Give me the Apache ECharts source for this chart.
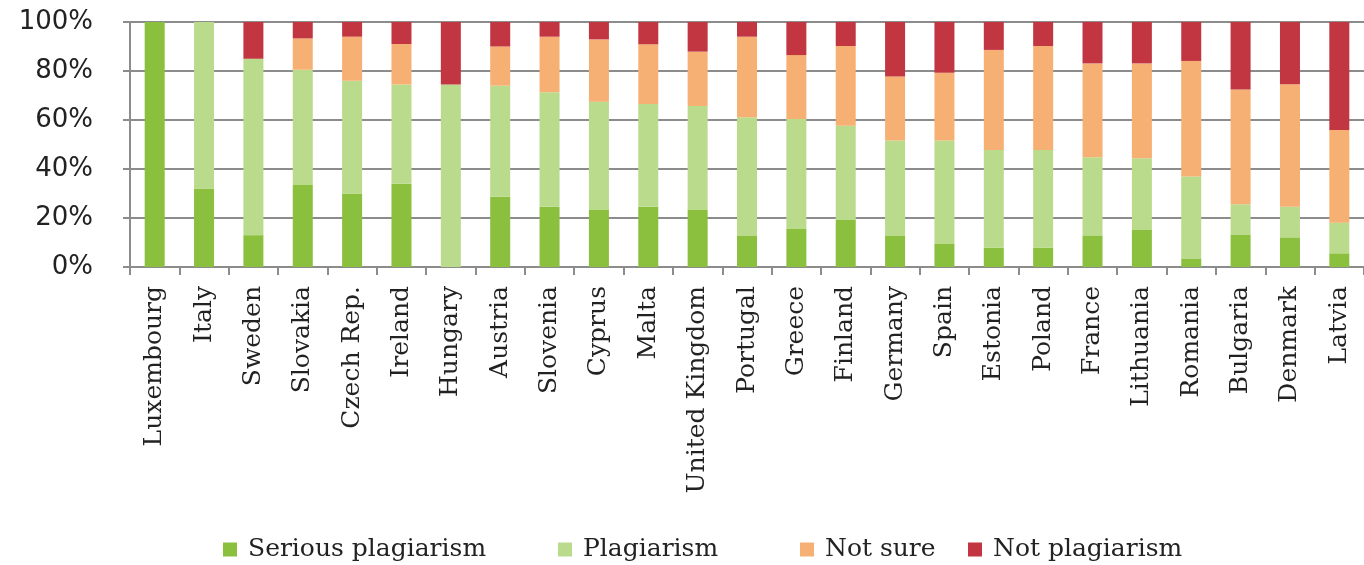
<!DOCTYPE html>
<html>
<head>
<meta charset="utf-8">
<script src="https://cdn.jsdelivr.net/npm/echarts@6/dist/echarts.min.js"></script>
<style>html,body{margin:0;padding:0;background:#fff;}#c{width:1364px;height:565px;}</style>
</head>
<body>
<div id="c"></div>
<script>
const categories = ["Luxembourg","Italy","Sweden","Slovakia","Czech Rep.","Ireland","Hungary","Austria","Slovenia","Cyprus","Malta","United Kingdom","Portugal","Greece","Finland","Germany","Spain","Estonia","Poland","France","Lithuania","Romania","Bulgaria","Denmark","Latvia"];
const seriousPlagiarism = [100,32,13,33.5,30,34,0,28.7,24.6,23.3,24.6,23.3,12.7,15.5,19.2,12.7,9.4,7.9,7.9,12.9,15.1,3.5,13.3,12.1,5.6];
const plagiarism        = [0,68,72,47,46,40.5,74.5,45.3,46.7,44.2,41.9,42.4,48.4,44.9,38.5,38.9,42.2,39.9,39.9,31.9,29.3,33.4,12.3,12.5,12.5];
const notSure           = [0,0,0,12.8,18,16.5,0,16,22.7,25.4,24.4,22.2,32.9,26.1,32.5,26.2,27.7,40.8,42.4,38.3,38.7,47.2,46.9,50,37.8];
const notPlagiarism     = [0,0,15,6.7,6,9,25.5,10,6,7.1,9.1,12.1,6,13.5,9.8,22.2,20.7,11.4,9.8,16.9,16.9,15.9,27.5,25.4,44.1];
const yTicks = [0,20,40,60,80,100];
const seriesNames = ["Serious plagiarism","Plagiarism","Not sure","Not plagiarism"];
const colors = ["#8bbf3e","#badb8c","#f6b073","#c13641"];

const chart = echarts.init(document.getElementById('c'), null, {renderer:'canvas'});
const data = [seriousPlagiarism, plagiarism, notSure, notPlagiarism];
const legendLeft = [218, 553, 795, 963];
chart.setOption({
  animation:false,
  color: colors,
  grid:{left:130, right:-8, top:22, bottom:298, containLabel:false},
  legend: seriesNames.map((n,i)=>({
    data:[n], left:legendLeft[i], top:532, itemWidth:14, itemHeight:14,
    icon:'rect', selectedMode:false,
    textStyle:{fontFamily:'DejaVu Serif', fontSize:25, color:'#222', padding:[0,0,0,6]}
  })),
  xAxis:{
    type:'category', data:categories,
    axisLine:{show:true, lineStyle:{color:'#8c8c8c', width:2}},
    axisTick:{show:true, length:8, lineStyle:{color:'#8c8c8c', width:2}},
    axisLabel:{rotate:90, margin:19, fontFamily:'DejaVu Serif', fontSize:25, color:'#222', interval:0}
  },
  yAxis:{
    type:'value', min:0, max:100, interval:20,
    axisLine:{show:true, lineStyle:{color:'#8c8c8c', width:2}},
    axisTick:{show:true, length:7, lineStyle:{color:'#8c8c8c', width:2}},
    splitLine:{show:true, lineStyle:{color:'#8c8c8c', width:2}},
    axisLabel:{margin:37, fontFamily:'DejaVu Sans', fontSize:26, color:'#222',
      formatter:function(v){ return yTicks.indexOf(v)>=0 ? v+'%' : ''; }}
  },
  series: seriesNames.map((n,i)=>({
    name:n, type:'bar', stack:'total', barWidth:20, data:data[i],
    itemStyle:{color:colors[i]}
  }))
});
</script>
</body>
</html>
